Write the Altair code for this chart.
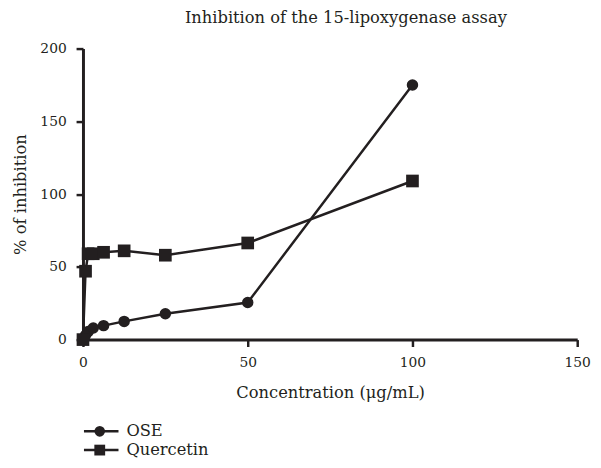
import altair as alt
import pandas as pd

conc = [0, 0.78, 1.56, 3.125, 6.25, 12.5, 25, 50, 100]
ose = [0, 3, 5.5, 8, 9.6, 12.5, 17.8, 25.5, 175]
quercetin = [0, 47, 59, 59, 60, 61, 58, 66.4, 109]
series = ["OSE", "Quercetin"]
x_ticks = [0, 50, 100, 150]
y_ticks = [0, 50, 100, 150, 200]

rows = []
for c, v in zip(conc, ose):
    rows.append({"conc": c, "val": v, "series": "OSE"})
for c, v in zip(conc, quercetin):
    rows.append({"conc": c, "val": v, "series": "Quercetin"})
df = pd.DataFrame(rows)
leg = pd.DataFrame({"series": series, "row": list(range(len(series)))})

INK = "#231f20"
FONT = "DejaVu Serif"
FS = 16.5
LFS = 14
W, H = 501, 295

shape_scale = alt.Scale(domain=series, range=["circle", "square"])
size_scale = alt.Scale(domain=series, range=[135, 165])

xenc = alt.X("conc:Q", scale=alt.Scale(domain=[0, 150], nice=False),
             axis=alt.Axis(values=x_ticks, title="Concentration (μg/mL)", format="d",
                           labelPadding=9, titlePadding=16))
yenc = alt.Y("val:Q", scale=alt.Scale(domain=[0, 200], nice=False),
             axis=alt.Axis(values=y_ticks, title="% of inhibition", format="d",
                           labelPadding=10, titlePadding=12))

lines = alt.Chart(df).mark_line(color=INK, strokeWidth=2.5).encode(
    x=xenc, y=yenc, detail="series:N")
pts = alt.Chart(df).mark_point(filled=True, color=INK, opacity=1).encode(
    x="conc:Q", y="val:Q",
    shape=alt.Shape("series:N", scale=shape_scale, legend=None),
    size=alt.Size("series:N", scale=size_scale, legend=None))
main = alt.layer(lines, pts)

ly = alt.Y("row:Q", scale=alt.Scale(domain=[0, 1], range=[388, 407], nice=False, zero=False),
           axis=None)
leg_rule = alt.Chart(leg).mark_rule(color=INK, strokeWidth=2.5).encode(
    y=ly, x=alt.value(1), x2=alt.value(36))
leg_pt = alt.Chart(leg).mark_point(filled=True, color=INK, opacity=1).encode(
    y=ly, x=alt.value(17),
    shape=alt.Shape("series:N", scale=shape_scale, legend=None),
    size=alt.Size("series:N", scale=alt.Scale(domain=series, range=[115, 120]), legend=None))
leg_txt = alt.Chart(leg).mark_text(align="left", baseline="middle", font=FONT,
                                   fontSize=FS, color=INK).encode(
    y=ly, x=alt.value(44), text="series:N")
legend = alt.layer(leg_rule, leg_pt, leg_txt)

chart = alt.layer(main, legend).resolve_scale(
    y="independent", size="independent"
).properties(
    width=W, height=H,
    autosize=alt.AutoSizeParams(type="none"),
    padding={"left": 76, "top": 38, "right": 16, "bottom": 125},
    title=alt.TitleParams("Inhibition of the 15-lipoxygenase assay", font=FONT,
                          fontSize=FS, fontWeight="normal", color=INK,
                          anchor="middle", dx=16, offset=15),
).configure_view(stroke=None).configure_axis(
    grid=False, domainColor=INK, domainWidth=3, tickColor=INK, tickWidth=2.5,
    tickSize=7, labelFont=FONT, labelFontSize=LFS, labelColor=INK,
    titleFont=FONT, titleFontSize=FS, titleFontWeight="normal", titleColor=INK,
    labelFlush=False,
)

chart.save("out.html", embed_options={"renderer": "svg", "actions": False})
